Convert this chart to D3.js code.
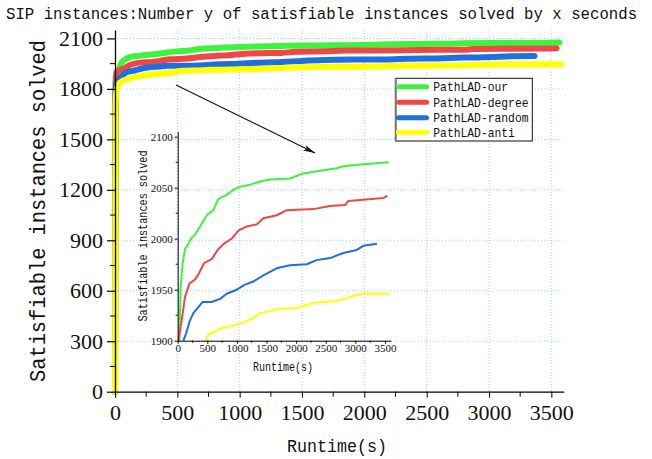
<!DOCTYPE html>
<html>
<head>
<meta charset="utf-8">
<script src="https://cdn.jsdelivr.net/npm/d3@7"></script>
<style>
  body { margin: 0; background: #fff; }
  svg { display: block; }
  .mono { font-family: "Liberation Mono", "DejaVu Sans Mono", monospace; fill: #111; }
  .num { font-family: "Liberation Serif", "DejaVu Serif", serif; fill: #111; }
</style>
</head>
<body>
<svg id="chart" width="652" height="459"></svg>
<script>

// solved-instance curves, [seconds, instances]
var ourData = [[0, 0], [3, 1720], [8, 1860], [28, 1900], [50, 1953], [84, 1976], [124, 1990], [180, 1995], [236, 2001],
  [293, 2004], [377, 2012], [490, 2023], [602, 2028], [687, 2039], [827, 2043], [940, 2048], [1052, 2051],
  [1221, 2053], [1390, 2056], [1559, 2058], [1896, 2059], [2121, 2064], [2459, 2067], [2684, 2069],
  [2797, 2071], [3134, 2073], [3562, 2075]];
var degreeData = [[0, 0], [3, 1700], [6, 1850], [11, 1900], [68, 1920], [124, 1943], [197, 1956], [293, 1960],
  [349, 1965], [444, 1976], [574, 1980], [687, 1990], [799, 1996], [912, 2000], [1024, 2008], [1165, 2012],
  [1334, 2014], [1446, 2020], [1671, 2023], [1840, 2028], [2290, 2029], [2572, 2032], [2825, 2033],
  [2881, 2037], [3472, 2040], [3542, 2042]];
var randomData = [[0, 0], [3, 1700], [10, 1825], [40, 1862], [96, 1900], [141, 1907], [208, 1920], [264, 1927],
  [349, 1933], [422, 1938], [574, 1938], [715, 1941], [827, 1946], [996, 1950], [1137, 1955], [1277, 1958],
  [1446, 1964], [1671, 1971], [1896, 1974], [2178, 1975], [2346, 1979], [2572, 1981], [2797, 1986],
  [3022, 1989], [3134, 1993], [3365, 1995]];
var antiData = [[0, 0], [4, 1700], [12, 1790], [40, 1838], [120, 1862], [250, 1882], [478, 1900], [518, 1906],
  [658, 1910], [771, 1913], [940, 1915], [1108, 1918], [1277, 1922], [1390, 1927], [1559, 1929],
  [1671, 1931], [2009, 1932], [2290, 1937], [2684, 1939], [2909, 1943], [3134, 1946], [3580, 1946]];

var seriesNames = ["PathLAD-our", "PathLAD-degree", "PathLAD-random", "PathLAD-anti"];
var seriesColors = ["#3ef23e", "#f04646", "#1f6fdc", "#ffff00"];
var allSeries = [ourData, degreeData, randomData, antiData];

var xTicks = [0, 500, 1000, 1500, 2000, 2500, 3000, 3500];
var yTicks = [0, 300, 600, 900, 1200, 1500, 1800, 2100];
var insetYTicks = [1900, 1950, 2000, 2050, 2100];

var titleText = "SIP instances:Number y of satisfiable instances solved by x seconds";
var xLabel = "Runtime(s)";
var yLabel = "Satisfiable instances solved";

drawChart();

function drawChart() {
  var svg = d3.select("#chart");
  svg.append("rect").attr("width", 652).attr("height", 459).attr("fill", "#fff");

  var x = d3.scaleLinear().domain([0, 3600]).range([115, 563.8]);
  var y = d3.scaleLinear().domain([0, 2150]).range([391.7, 30]);

  // dotted grid
  var grid = svg.append("g").attr("stroke", "#9fd3f2").attr("stroke-width", 1).attr("stroke-dasharray", "1,2");
  grid.selectAll(".vg").data(xTicks.slice(1)).enter().append("line")
    .attr("x1", function(d) { return x(d); }).attr("x2", function(d) { return x(d); })
    .attr("y1", y(2150)).attr("y2", y(0));
  grid.selectAll(".hg").data(yTicks.slice(1)).enter().append("line")
    .attr("x1", x(0)).attr("x2", x(3600))
    .attr("y1", function(d) { return y(d); }).attr("y2", function(d) { return y(d); });

  // main curves
  var line = d3.line()
    .x(function(d) { return x(d[0]); })
    .y(function(d) { return y(d[1]); })
    .curve(d3.curveMonotoneX);
  allSeries.forEach(function(s, i) {
    svg.append("path").datum(s)
      .attr("d", line)
      .attr("fill", "none")
      .attr("stroke", seriesColors[i])
      .attr("stroke-width", 6)
      .attr("stroke-linejoin", "round")
      .attr("stroke-linecap", "round");
  });

  // x axis
  var xAxis = svg.append("g").attr("transform", "translate(0," + y(0) + ")")
    .call(d3.axisBottom(x).tickValues(xTicks).tickSize(6).tickSizeOuter(0).tickFormat(d3.format("d")));
  xAxis.selectAll("text").attr("class", "num").style("font-size", "22px").attr("dy", "1.05em").attr("y", 5);
  xAxis.append("g").selectAll("line").data(d3.range(250, 3600, 500)).enter().append("line")
    .attr("x1", function(d) { return x(d); }).attr("x2", function(d) { return x(d); })
    .attr("y1", 0).attr("y2", 5).attr("stroke", "#000");
  xAxis.select(".domain").attr("stroke-width", 1.3);

  // y axis
  var yAxis = svg.append("g").attr("transform", "translate(" + x(0) + ",0)")
    .call(d3.axisLeft(y).tickValues(yTicks).tickSize(8).tickSizeOuter(0).tickFormat(d3.format("d")));
  yAxis.selectAll("text").attr("class", "num").style("font-size", "22px").attr("x", -12);
  yAxis.append("g").selectAll("line").data(d3.range(150, 2150, 300)).enter().append("line")
    .attr("x1", -5).attr("x2", 0)
    .attr("y1", function(d) { return y(d); }).attr("y2", function(d) { return y(d); })
    .attr("stroke", "#000");
  yAxis.select(".domain").attr("stroke-width", 1.3);
  yAxis.selectAll(".tick line").attr("stroke-width", 1.2);

  // labels
  svg.append("text").attr("class", "mono")
    .attr("transform", "translate(6,19) scale(1,1.1)")
    .style("font-size", "15.7px").text(titleText);
  svg.append("text").attr("class", "mono").attr("x", 287).attr("y", 452)
    .attr("textLength", 100).attr("lengthAdjust", "spacingAndGlyphs")
    .style("font-size", "19px").text(xLabel);
  svg.append("text").attr("class", "mono")
    .attr("transform", "translate(45,211) rotate(-90)")
    .attr("text-anchor", "middle")
    .attr("textLength", 342).attr("lengthAdjust", "spacingAndGlyphs")
    .style("font-size", "22px").text(yLabel);

  drawInset(svg);
  drawLegend(svg);

  // arrow from main curves to the zoomed view
  var defs = svg.append("defs");
  defs.append("marker").attr("id", "arrow")
    .attr("viewBox", "0 0 12 6").attr("refX", 12).attr("refY", 3)
    .attr("markerWidth", 12).attr("markerHeight", 6).attr("markerUnits", "userSpaceOnUse")
    .attr("orient", "auto")
    .append("path").attr("d", "M0,0 L12,3 L0,6 L3,3 Z").attr("fill", "#111");
  svg.append("line").attr("x1", 176).attr("y1", 85).attr("x2", 315).attr("y2", 153)
    .attr("stroke", "#111").attr("stroke-width", 1.1).attr("marker-end", "url(#arrow)");
}

function drawInset(svg) {
  var ix = d3.scaleLinear().domain([0, 3600]).range([177.7, 390.9]);
  var iy = d3.scaleLinear().domain([1900, 2105]).range([340.7, 131.6]);
  var g = svg.append("g");

  g.append("clipPath").attr("id", "insetClip").append("rect")
    .attr("x", ix(0)).attr("y", iy(2105)).attr("width", ix(3600) - ix(0)).attr("height", iy(1900) - iy(2105));

  var line = d3.line()
    .x(function(d) { return ix(d[0]); })
    .y(function(d) { return iy(d[1]); });
  allSeries.forEach(function(s, i) {
    g.append("path").datum(s)
      .attr("clip-path", "url(#insetClip)")
      .attr("d", line)
      .attr("fill", "none")
      .attr("stroke", seriesColors[i])
      .attr("stroke-width", 2)
      .attr("stroke-linejoin", "round");
  });

  var xa = g.append("g").attr("transform", "translate(0," + iy(1900) + ")")
    .call(d3.axisBottom(ix).tickValues(xTicks).tickSize(3).tickSizeOuter(0).tickFormat(d3.format("d")));
  xa.selectAll("text").attr("class", "num").style("font-size", "11px").attr("y", 4);
  xa.append("g").selectAll("line").data(d3.range(250, 3600, 500)).enter().append("line")
    .attr("x1", function(d) { return ix(d); }).attr("x2", function(d) { return ix(d); })
    .attr("y1", 0).attr("y2", 2).attr("stroke", "#000");

  var ya = g.append("g").attr("transform", "translate(" + ix(0) + ",0)")
    .call(d3.axisLeft(iy).tickValues(insetYTicks).tickSize(3).tickSizeOuter(0).tickFormat(d3.format("d")));
  ya.selectAll("text").attr("class", "num").style("font-size", "11px").attr("x", -5);
  ya.append("g").selectAll("line").data(d3.range(1925, 2105, 50)).enter().append("line")
    .attr("x1", -2).attr("x2", 0)
    .attr("y1", function(d) { return iy(d); }).attr("y2", function(d) { return iy(d); })
    .attr("stroke", "#000");

  g.append("text").attr("class", "mono").attr("x", 283).attr("y", 371)
    .attr("text-anchor", "middle")
    .attr("textLength", 60).attr("lengthAdjust", "spacingAndGlyphs")
    .style("font-size", "12px").text(xLabel);
  g.append("text").attr("class", "mono")
    .attr("transform", "translate(147,236) rotate(-90)")
    .attr("text-anchor", "middle")
    .attr("textLength", 171).attr("lengthAdjust", "spacingAndGlyphs")
    .style("font-size", "12px").text(yLabel);
}

function drawLegend(svg) {
  var lg = svg.append("g");
  lg.append("rect").attr("x", 395.7).attr("y", 78.3).attr("width", 136.6).attr("height", 62.7)
    .attr("fill", "#fff").attr("stroke", "#111").attr("stroke-width", 1);
  lg.append("line").attr("x1", 395.7).attr("x2", 395.7).attr("y1", 78.3).attr("y2", 141)
    .attr("stroke", "#777").attr("stroke-width", 2);
  var rows = [86.7, 102.3, 117.7, 132.3];
  seriesNames.forEach(function(name, i) {
    lg.append("line").attr("x1", 398.5).attr("x2", 426.5).attr("y1", rows[i]).attr("y2", rows[i])
      .attr("stroke", seriesColors[i]).attr("stroke-width", 5).attr("stroke-linecap", "round");
    lg.append("text").attr("class", "mono").attr("x", 433.3).attr("y", rows[i] + 4.5)
      .attr("textLength", 6.8 * name.length).attr("lengthAdjust", "spacingAndGlyphs")
      .style("font-size", "13px").text(name);
  });
}
</script>
</body>
</html>
